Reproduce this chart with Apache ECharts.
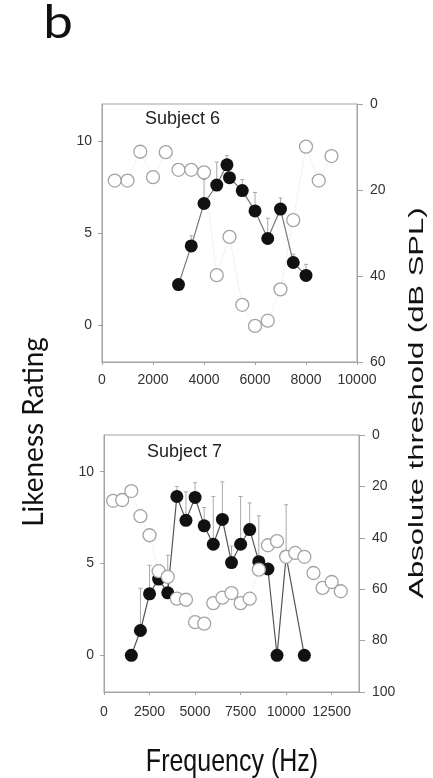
<!DOCTYPE html>
<html>
<head>
<meta charset="utf-8">
<script src="https://cdn.jsdelivr.net/npm/echarts@6/dist/echarts.min.js"></script>
<style>
  html, body { margin: 0; padding: 0; background: #fff; }
  #chart { width: 433px; height: 778px; }
</style>
</head>
<body>
<div id="chart"></div>
<script>
// Subject 6: likeness rating (filled) and absolute threshold (open)
const s6Freq = [3000, 3500, 4000, 4500, 4900, 5000, 5500, 6000, 6500, 7000, 7500, 8000]
const s6Rating = [2.2, 4.3, 6.6, 7.6, 8.7, 8.0, 7.3, 6.2, 4.7, 6.3, 3.4, 2.7]
const s6ErrTop = [2.2, 4.85, 7.9, 8.85, 9.2, 8.0, 7.9, 7.2, 5.8, 6.9, 3.85, 3.3]
const s6ThrFreq = [500, 1000, 1500, 2000, 2500, 3000, 3500, 4000, 4500, 5000, 5500, 6000, 6500, 7000, 7500, 8000, 8500, 9000]
const s6Thr = [17.8, 17.8, 11.1, 17.0, 11.2, 15.3, 15.3, 15.9, 39.8, 30.9, 46.7, 51.6, 50.4, 43.1, 27.0, 9.9, 17.8, 12.1]

// Subject 7
const s7Freq = [1500, 2000, 2500, 3000, 3500, 4000, 4500, 5000, 5500, 6000, 6500, 7000, 7500, 8000, 8500, 9000, 9500, 10000, 11000]
const s7Rating = [0, 1.35, 3.35, 4.15, 3.4, 8.65, 7.35, 8.6, 7.05, 6.05, 7.4, 5.05, 6.05, 6.85, 5.1, 4.7, 0, 5.4, 0]
const s7ErrTop = [0, 3.65, 4.9, 4.8, 5.45, 9.2, 8.9, 9.4, 8.05, 8.65, 9.45, 5.95, 8.65, 8.3, 7.6, 4.7, 0, 8.2, 0]
const s7ThrFreq = [500, 1000, 1500, 2000, 2500, 3000, 3500, 4000, 4500, 5000, 5500, 6000, 6500, 7000, 7500, 8000, 8500, 9000, 9500, 10000, 10500, 11000, 11500, 12000, 12500, 13000]
const s7Thr = [25.6, 25.3, 21.8, 31.6, 39.0, 53.0, 55.2, 63.7, 64.1, 72.8, 73.4, 65.4, 63.3, 61.5, 65.4, 63.7, 52.4, 42.9, 41.3, 47.4, 45.9, 47.4, 53.7, 59.5, 57.2, 60.8]

// tick labels
const ratingTicks = [0, 5, 10]
const s7FreqTicks = [0, 2500, 5000, 7500, 10000, 12500]

const AXIS = '#a3a3a3'
const LABEL = '#333'
const FONT = '"Liberation Sans", Arial, sans-serif'

const chart = echarts.init(document.getElementById('chart'))

function pairs(xs, ys) { return xs.map((x, i) => [x, ys[i]]) }

function errItem(params, api) {
  const x = api.value(0), lo = api.value(1), hi = api.value(2)
  if (hi <= lo) return null
  const p0 = api.coord([x, lo])
  const p1 = api.coord([x, hi])
  const st = { stroke: '#aaa', lineWidth: 1 }
  return {
    type: 'group',
    children: [
      { type: 'line', shape: { x1: p0[0], y1: p0[1], x2: p1[0], y2: p1[1] }, style: st },
      { type: 'line', shape: { x1: p1[0] - 2, y1: p1[1], x2: p1[0] + 2, y2: p1[1] }, style: st },
    ],
  }
}

function xAx(grid, max, interval, margin, custom) {
  const ax = {
    type: 'value', gridIndex: grid, min: 0, max: max, interval: interval,
    splitLine: { show: false },
    axisLine: { onZero: false, lineStyle: { color: AXIS } },
    axisTick: { length: 3, lineStyle: { color: AXIS } },
    axisLabel: { color: LABEL, fontSize: 14, fontFamily: FONT, margin: margin, formatter: v => String(v) },
  }
  if (custom) {
    ax.axisTick.customValues = custom
    ax.axisLabel.customValues = custom
  }
  return ax
}

function leftAx(grid) {
  return {
    type: 'value', gridIndex: grid, position: 'left', min: -2, max: 12,
    splitLine: { show: false },
    axisLine: { show: true, onZero: false, lineStyle: { color: AXIS } },
    axisTick: { show: true, length: 4, customValues: ratingTicks, lineStyle: { color: AXIS } },
    axisLabel: { color: LABEL, fontSize: 14, fontFamily: FONT, margin: 10, customValues: ratingTicks },
  }
}

function rightAx(grid, max) {
  return {
    type: 'value', gridIndex: grid, position: 'right', min: 0, max: max, interval: 20, inverse: true,
    splitLine: { show: false },
    axisLine: { show: true, onZero: false, lineStyle: { color: AXIS } },
    axisTick: { show: true, length: 6, lineStyle: { color: AXIS } },
    axisLabel: { color: LABEL, fontSize: 14, fontFamily: FONT, margin: 13 },
  }
}

function ratingSeries(xi, yi, xs, ys, lineColor) {
  return {
    type: 'line', xAxisIndex: xi, yAxisIndex: yi, z: 3,
    data: pairs(xs, ys),
    symbol: 'circle', symbolSize: 13,
    itemStyle: { color: '#111' },
    lineStyle: { color: lineColor, width: 1.2 },
  }
}

// faint dotted trace behind everything, open circles on top
function thrLine(xi, yi, xs, ys) {
  return {
    type: 'line', xAxisIndex: xi, yAxisIndex: yi, z: 1,
    data: pairs(xs, ys), showSymbol: false,
    lineStyle: { color: '#e3e3e3', width: 1, type: 'dotted' },
  }
}

function thrDots(xi, yi, xs, ys) {
  return {
    type: 'scatter', xAxisIndex: xi, yAxisIndex: yi, z: 4,
    data: pairs(xs, ys),
    symbol: 'circle', symbolSize: 13,
    itemStyle: { color: '#fff', borderColor: '#a4a4a4', borderWidth: 1.3, opacity: 1 },
  }
}

function errSeries(xi, yi, xs, lo, hi) {
  return {
    type: 'custom', xAxisIndex: xi, yAxisIndex: yi, z: 2,
    renderItem: errItem,
    data: xs.map((x, i) => [x, lo[i], hi[i]]),
  }
}

chart.setOption({
  animation: false,
  grid: [
    { left: 102, top: 104, width: 255, height: 258, show: true, borderColor: AXIS, borderWidth: 1 },
    { left: 104, top: 435, width: 255, height: 257, show: true, borderColor: AXIS, borderWidth: 1 },
  ],
  xAxis: [
    xAx(0, 10000, 2000, 11),
    xAx(1, 14000, 2500, 13, s7FreqTicks),
  ],
  yAxis: [
    leftAx(0), rightAx(0, 60),
    leftAx(1), rightAx(1, 100),
  ],
  graphic: [
    { type: 'text', x: 58, y: 23, scaleX: 1.15, style: { text: 'b', fontSize: 46, fontFamily: 'Lato, sans-serif', fill: '#111', align: 'center', verticalAlign: 'middle' } },
    { type: 'text', x: 145, y: 119, style: { text: 'Subject 6', fontSize: 18, fontFamily: FONT, fill: '#222', align: 'left', verticalAlign: 'middle' } },
    { type: 'text', x: 147, y: 452, style: { text: 'Subject 7', fontSize: 18, fontFamily: FONT, fill: '#222', align: 'left', verticalAlign: 'middle' } },
    { type: 'text', x: 34, y: 432, rotation: Math.PI / 2, style: { text: 'Likeness Rating', fontSize: 28, fontFamily: 'Lato, sans-serif', fill: '#111', align: 'center', verticalAlign: 'middle' } },
    { type: 'text', x: 417, y: 403, rotation: Math.PI / 2, scaleX: 1.55, style: { text: 'Absolute threshold (dB SPL)', fontSize: 20, fontFamily: FONT, fill: '#111', align: 'center', verticalAlign: 'middle' } },
    { type: 'text', x: 232, y: 762, scaleY: 1.25, style: { text: 'Frequency (Hz)', fontSize: 25, fontFamily: FONT, fill: '#111', align: 'center', verticalAlign: 'middle' } },
  ],
  series: [
    thrLine(0, 1, s6ThrFreq, s6Thr),
    errSeries(0, 0, s6Freq, s6Rating, s6ErrTop),
    ratingSeries(0, 0, s6Freq, s6Rating, '#777'),
    thrDots(0, 1, s6ThrFreq, s6Thr),
    thrLine(1, 3, s7ThrFreq, s7Thr),
    errSeries(1, 2, s7Freq, s7Rating, s7ErrTop),
    ratingSeries(1, 2, s7Freq, s7Rating, '#555'),
    thrDots(1, 3, s7ThrFreq, s7Thr),
  ],
})
</script>
</body>
</html>
